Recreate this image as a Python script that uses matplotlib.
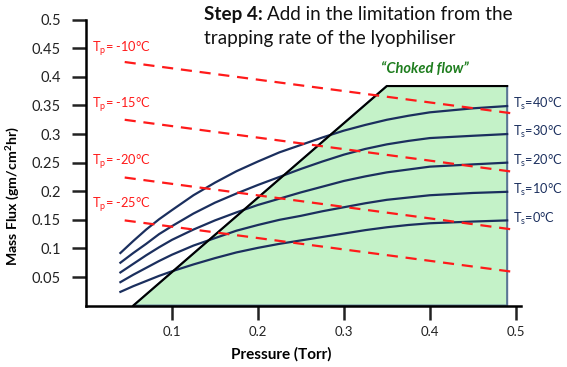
import matplotlib
matplotlib.use("Agg")
import matplotlib.pyplot as plt
import numpy as np

plt.rcParams['font.family'] = ['Lato', 'DejaVu Sans']
plt.rcParams['mathtext.fontset'] = 'custom'
plt.rcParams['mathtext.rm'] = 'Lato'
plt.rcParams['mathtext.it'] = 'Lato:italic'
plt.rcParams['mathtext.bf'] = 'Lato:bold'

# ---- data ----
pressure = [0.04, 0.055, 0.07, 0.085, 0.10, 0.125, 0.15, 0.175, 0.20, 0.225, 0.25,
            0.275, 0.30, 0.325, 0.35, 0.375, 0.40, 0.45, 0.49]
shelf_labels = ["40", "30", "20", "10", "0"]
flux_40 = [0.092, 0.113, 0.133, 0.151, 0.167, 0.193, 0.215, 0.235, 0.252, 0.268, 0.281,
           0.294, 0.306, 0.316, 0.325, 0.332, 0.338, 0.345, 0.349]
flux_30 = [0.075, 0.092, 0.108, 0.125, 0.139, 0.161, 0.180, 0.196, 0.211, 0.225, 0.239,
           0.252, 0.264, 0.274, 0.282, 0.288, 0.293, 0.297, 0.300]
flux_20 = [0.058, 0.073, 0.088, 0.102, 0.115, 0.133, 0.149, 0.163, 0.176, 0.187, 0.198,
           0.208, 0.218, 0.226, 0.233, 0.238, 0.243, 0.247, 0.250]
flux_10 = [0.041, 0.054, 0.066, 0.078, 0.089, 0.105, 0.118, 0.131, 0.141, 0.150, 0.157,
           0.165, 0.172, 0.179, 0.185, 0.189, 0.193, 0.197, 0.199]
flux_0 = [0.024, 0.034, 0.043, 0.052, 0.060, 0.072, 0.083, 0.093, 0.101, 0.108, 0.114,
          0.120, 0.126, 0.132, 0.137, 0.141, 0.144, 0.147, 0.149]
shelf_series = [flux_40, flux_30, flux_20, flux_10, flux_0]

product_labels = ["-10", "-15", "-20", "-25"]
product_x = [0.045, 0.497]
product_start = [0.426, 0.325, 0.224, 0.149]
product_end = [0.336, 0.234, 0.133, 0.059]
product_label_y = [0.450, 0.352, 0.251, 0.176]

choke_x = [0.055, 0.35, 0.49, 0.49]
choke_y = [0.0, 0.384, 0.384, 0.0]

xticks = [0.1, 0.2, 0.3, 0.4, 0.5]
yticks = [0.05, 0.1, 0.15, 0.2, 0.25, 0.3, 0.35, 0.4, 0.45, 0.5]

# ---- figure ----
fig = plt.figure(figsize=(5.67, 3.67), dpi=100)
ax = fig.add_axes([0.1517, 0.1673, 0.767, 0.779])
ax.set_xlim(0, 0.506)
ax.set_ylim(0, 0.5)

navy = '#1b2f5e'
red = '#ff1a1a'

ax.fill(choke_x, choke_y, facecolor='#c4f2c8', edgecolor='#5a7595', lw=1.5, zorder=1)
ax.plot(choke_x[:3], choke_y[:3], color='black', lw=1.5, zorder=3)

for ys, lab in zip(shelf_series, shelf_labels):
    ax.plot(pressure, ys, color=navy, lw=1.6, zorder=2)
    ax.text(0.4965, ys[-1] + 0.003, "T$_\\mathrm{s}$=" + lab + "°C", color=navy,
            fontsize=9.2, va='center', ha='left', zorder=5)

for s, e, lab, ly in zip(product_start, product_end, product_labels, product_label_y):
    ax.plot(product_x, [s, e], color=red, lw=1.6, dashes=(5, 3.5), zorder=4)
    ax.text(0.007, ly, "T$_\\mathrm{p}$= " + lab + "°C", color=red, fontsize=9.2,
            va='center', ha='left', zorder=5)

ax.text(0.394, 0.413, "\u201cChoked flow\u201d", color='#1e7d1e', fontsize=10.5,
        fontweight='bold', fontstyle='italic', ha='center', va='center')

# title: bold "Step 4:" followed by normal text
t1 = fig.text(204 / 567, 1 - 6 / 367, "Step 4:", fontsize=13.6, fontweight='bold',
              ha='left', va='top', color='#111111')
fig.canvas.draw()
bb = t1.get_window_extent()
x_after = (bb.x1 + 4) / fig.bbox.width
fig.text(x_after, 1 - 6 / 367, "Add in the limitation from the", fontsize=13.6,
         ha='left', va='top', color='#111111')
fig.text(204 / 567, 1 - 30 / 367, "trapping rate of the lyophiliser", fontsize=13.6,
         ha='left', va='top', color='#111111')

for sp in ['top', 'right']:
    ax.spines[sp].set_visible(False)
ax.spines['left'].set_linewidth(1.8)
ax.spines['bottom'].set_linewidth(1.8)
ax.spines['left'].set_bounds(0, 0.5)

ax.set_xticks(xticks)
ax.set_xticklabels([str(t) for t in xticks])
ax.set_yticks(yticks)
ax.set_yticklabels([("%g" % t) for t in yticks])
ax.tick_params(axis='y', length=10, width=1.8, pad=8, labelsize=10.5, colors='#222222')
ax.tick_params(axis='x', length=10, width=1.8, pad=4.5, labelsize=9.5, colors='#222222')

ax.set_ylabel("Mass Flux (gm/cm$^\\mathbf{2}$hr)", fontsize=10.2, fontweight='bold')
ax.yaxis.set_label_coords(-0.147, 0.383)
ax.set_xlabel("Pressure (Torr)", fontsize=11, fontweight='bold')
ax.xaxis.set_label_coords(0.45, -0.145)

fig.savefig("out.png", dpi=100)
